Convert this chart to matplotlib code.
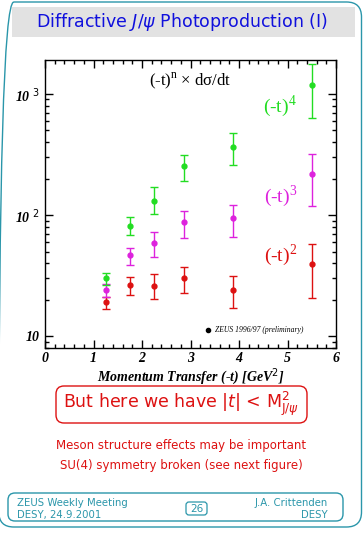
import numpy as np
import matplotlib.pyplot as plt
from matplotlib.patches import FancyBboxPatch, Rectangle
from matplotlib.ticker import FixedLocator, NullFormatter

# momentum transfer bins
t_vals = [1.25, 1.75, 2.25, 2.87, 3.87, 5.5]

# (-t)^2 x dsigma/dt
red_y = [19.3, 26.5, 26.0, 30.5, 24.3, 39.6]
red_lo = [16.7, 21.9, 20.2, 22.6, 17.0, 20.8]
red_hi = [21.2, 30.8, 32.7, 37.6, 31.7, 58.2]

# (-t)^3 x dsigma/dt
mag_y = [24.2, 46.4, 59.0, 87.5, 93.7, 218]
mag_lo = [21.2, 38.6, 45.0, 64.6, 66.5, 118]
mag_hi = [27.2, 54.0, 72.8, 108.6, 122, 319]

# (-t)^4 x dsigma/dt
grn_y = [30.2, 81.6, 131, 255, 362, 1194]
grn_lo = [26.4, 68.7, 102, 190, 259, 634]
grn_hi = [33.4, 95.5, 171, 315, 476, 1771]

W, H = 363, 535
teal = '#2a96aa'
red = '#dd1111'
sans = 'DejaVu Sans'
serif = 'Liberation Serif'

fig = plt.figure(figsize=(W / 100, H / 100), dpi=100)

# background layer in pixel coordinates (y down)
bg = fig.add_axes([0, 0, 1, 1], zorder=-1)
bg.set_xlim(0, W)
bg.set_ylim(H, 0)
bg.axis('off')

def rbox(x0, y0, x1, y1, r, color, lw=1.0):
    bg.add_patch(FancyBboxPatch((x0, y0), x1 - x0, y1 - y0,
                                boxstyle='round,pad=0,rounding_size=%g' % r,
                                fill=False, ec=color, lw=lw))

# slide frame
rbox(-1.2, 2, 361.5, 527, 15, teal)
# title bar
bg.add_patch(Rectangle((12, 7), 343, 30, fc='#e2e2e2', ec='none'))
bg.text(182, 22, r'Diffractive $J/\psi$ Photoproduction (I)',
        color='#1010dd', fontsize=12.5, ha='center', va='center', family=sans)

# statement box and comments
rbox(56, 386, 307, 423, 8, red)
bg.text(181, 404, r'But here we have $|t|$ < M$^2_{\mathrm{J}/\psi}$',
        color=red, fontsize=12.5, ha='center', va='center', family=sans)
bg.text(181, 446, 'Meson structure effects may be important',
        color=red, fontsize=8.5, ha='center', va='center', family=sans)
bg.text(181, 465, 'SU(4) symmetry broken (see next figure)',
        color=red, fontsize=8.5, ha='center', va='center', family=sans)

# footer
rbox(8, 493, 343, 521, 7, teal)
bg.text(17, 503, 'ZEUS Weekly Meeting', color=teal, fontsize=7.3,
        va='center', family=sans)
bg.text(17, 515, 'DESY, 24.9.2001', color=teal, fontsize=7.3,
        va='center', family=sans)
bg.text(328, 503, 'J.A. Crittenden', color=teal, fontsize=7.3,
        va='center', ha='right', family=sans)
bg.text(328, 515, 'DESY', color=teal, fontsize=7.3,
        va='center', ha='right', family=sans)
rbox(186, 502, 207, 515, 3, teal, lw=0.9)
bg.text(196.5, 508.5, '26', color=teal, fontsize=7.5, ha='center',
        va='center', family=sans)

# plot
ax = fig.add_axes([45 / W, 1 - 348.3 / H, 291 / W, (348.3 - 59.5) / H])
for ys, lo, hi, c in [(red_y, red_lo, red_hi, '#dd1111'),
                      (mag_y, mag_lo, mag_hi, '#dd22dd'),
                      (grn_y, grn_lo, grn_hi, '#22dd22')]:
    ys = np.array(ys)
    err = [ys - np.array(lo), np.array(hi) - ys]
    ax.errorbar(t_vals, ys, yerr=err, fmt='o', color=c, ms=3.5, capsize=2.8,
                elinewidth=1.0, capthick=1.0)

ax.set_yscale('log')
ax.set_xlim(0, 6)
ax.set_ylim(7.96, 1920)
ax.xaxis.set_major_locator(FixedLocator([0, 1, 2, 3, 4, 5, 6]))
ax.xaxis.set_minor_locator(FixedLocator(np.arange(0, 6.01, 0.2)))
ax.yaxis.set_major_locator(FixedLocator([10, 100, 1000]))
ax.yaxis.set_minor_locator(FixedLocator([m * d for d in [1, 10, 100, 1000]
                                         for m in range(2, 10)]))
ax.yaxis.set_minor_formatter(NullFormatter())
ax.set_xticklabels(['0', '1', '2', '3', '4', '5', '6'])
ax.set_yticklabels(['10', r'10$^{\ 2}$', r'10$^{\ 3}$'])
ax.tick_params(which='both', direction='in', top=True, right=True, width=1.0)
ax.tick_params(which='major', length=6, labelsize=10, pad=4)
ax.tick_params(axis='x', which='major', pad=3)
ax.tick_params(which='minor', length=3)
for lab in ax.get_xticklabels() + ax.get_yticklabels():
    lab.set_family(serif)
    lab.set_weight('bold')
    lab.set_style('italic')
for s in ax.spines.values():
    s.set_linewidth(1.0)
ax.set_xlabel(r'Momentum Transfer (-t) [GeV$^{2}$]', family=serif,
              weight='bold', style='italic', fontsize=10, labelpad=0.5)

ax.text(0.5, 0.925, r'(-t)$^{\mathregular{n}}$ × dσ/dt',
        transform=ax.transAxes, ha='center', va='center', fontsize=12,
        family=serif)
ax.text(4.85, 1000 * 10 ** (-(107 - 94.3) / 121), r'(-t)$^{\mathregular{4}}$',
        color='#22dd22', fontsize=14, family=serif, ha='center', va='center')
ax.text(4.85, 100 * 10 ** ((215.7 - 197) / 121), r'(-t)$^{\mathregular{3}}$',
        color='#dd22dd', fontsize=14, family=serif, ha='center', va='center')
ax.text(4.85, 10 * 10 ** ((336.3 - 255) / 121), r'(-t)$^{\mathregular{2}}$',
        color='#dd1111', fontsize=14, family=serif, ha='center', va='center')
ax.plot([0.56], [0.065], 'o', color='black', ms=3, transform=ax.transAxes)
ax.text(0.585, 0.065, 'ZEUS 1996/97 (preliminary)', transform=ax.transAxes,
        fontsize=5.5, style='italic', family=serif, va='center')

fig.savefig('out.png', dpi=100)
